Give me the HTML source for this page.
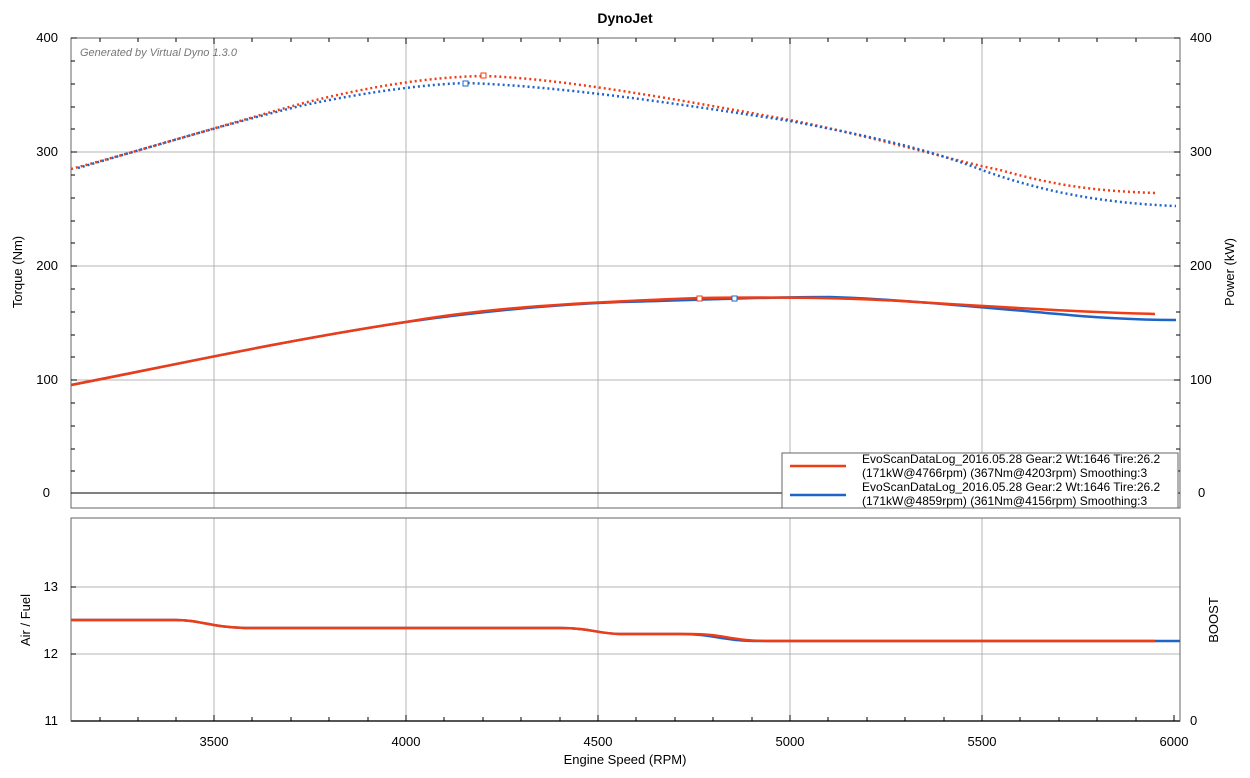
<!DOCTYPE html>
<html><head><style>body{margin:0;background:#fff}svg{display:block;font-family:"Liberation Sans",Arial,sans-serif}</style></head><body>
<svg width="1250" height="778" xmlns="http://www.w3.org/2000/svg">
<rect width="1250" height="778" fill="#fff"/>
<text x="625" y="23" text-anchor="middle" font-size="14" font-weight="bold">DynoJet</text>
<g stroke="#b4b4b4" stroke-width="1">
<line x1="214" y1="38" x2="214" y2="508"/><line x1="406" y1="38" x2="406" y2="508"/><line x1="598" y1="38" x2="598" y2="508"/><line x1="790" y1="38" x2="790" y2="508"/><line x1="982" y1="38" x2="982" y2="508"/>
<line x1="71" y1="152" x2="1180" y2="152"/><line x1="71" y1="266" x2="1180" y2="266"/><line x1="71" y1="380" x2="1180" y2="380"/>
<line x1="214" y1="518" x2="214" y2="721"/><line x1="406" y1="518" x2="406" y2="721"/><line x1="598" y1="518" x2="598" y2="721"/><line x1="790" y1="518" x2="790" y2="721"/><line x1="982" y1="518" x2="982" y2="721"/>
<line x1="71" y1="587" x2="1180" y2="587"/><line x1="71" y1="654" x2="1180" y2="654"/>
</g>
<line x1="71" y1="493" x2="1180" y2="493" stroke="#000"/>
<rect x="71" y="38" width="1109" height="470" fill="none" stroke="#666"/>
<rect x="71" y="518" width="1109" height="203" fill="none" stroke="#666"/>
<line x1="71" y1="721" x2="1180" y2="721" stroke="#555" stroke-width="2"/>
<g stroke="#000" stroke-width="1">
<path d="M71,38h6M71,61h4M71,84h4M71,107h4M71,129h4M71,152h6M71,175h4M71,198h4M71,221h4M71,243h4M71,266h6M71,289h4M71,312h4M71,335h4M71,357h4M71,380h6M71,403h4M71,426h4M71,449h4M71,471h4M71,493h6"/>
<path d="M1180,38h-6M1180,61h-4M1180,84h-4M1180,107h-4M1180,129h-4M1180,152h-6M1180,175h-4M1180,198h-4M1180,221h-4M1180,243h-4M1180,266h-6M1180,289h-4M1180,312h-4M1180,335h-4M1180,357h-4M1180,380h-6M1180,403h-4M1180,426h-4M1180,449h-4M1180,471h-4M1180,493h-6"/>
<path d="M71,587h5M71,654h5M100,721v-4M138,721v-4M176,721v-4M214,721v-6M252,721v-4M291,721v-4M329,721v-4M368,721v-4M406,721v-6M444,721v-4M483,721v-4M521,721v-4M560,721v-4M598,721v-6M636,721v-4M675,721v-4M713,721v-4M752,721v-4M790,721v-6M828,721v-4M867,721v-4M905,721v-4M944,721v-4M982,721v-6M1020,721v-4M1059,721v-4M1097,721v-4M1136,721v-4M1174,721v-6"/>
<path d="M100,38v4M138,38v4M176,38v4M214,38v6M252,38v4M291,38v4M329,38v4M368,38v4M406,38v6M444,38v4M483,38v4M521,38v4M560,38v4M598,38v6M636,38v4M675,38v4M713,38v4M752,38v4M790,38v6M828,38v4M867,38v4M905,38v4M944,38v4M982,38v6M1020,38v4M1059,38v4M1097,38v4M1136,38v4"/>
</g>
<text x="80" y="56" font-size="11" font-style="italic" fill="#777">Generated by Virtual Dyno 1.3.0</text>
<g font-size="13" text-anchor="end">
<text x="58" y="42">400</text><text x="58" y="156">300</text><text x="58" y="270">200</text><text x="58" y="384">100</text><text x="50" y="497">0</text>
<text x="58" y="591">13</text><text x="58" y="658">12</text><text x="58" y="725">11</text>
</g>
<g font-size="13"><text x="1190" y="42">400</text><text x="1190" y="156">300</text><text x="1190" y="270">200</text><text x="1190" y="384">100</text><text x="1198" y="497">0</text><text x="1190" y="725">0</text></g>
<g font-size="13" text-anchor="middle"><text x="214" y="746">3500</text><text x="406" y="746">4000</text><text x="598" y="746">4500</text><text x="790" y="746">5000</text><text x="982" y="746">5500</text><text x="1174" y="746">6000</text>
<text x="625" y="764">Engine Speed (RPM)</text></g>
<g font-size="13" text-anchor="middle"><text transform="translate(22,272) rotate(-90)">Torque (Nm)</text><text transform="translate(30,620) rotate(-90)">Air / Fuel</text>
<text transform="translate(1234,272) rotate(-90)">Power (kW)</text><text transform="translate(1218,620) rotate(-90)">BOOST</text></g>
<g fill="none" stroke-linejoin="round">
<path d="M71,169 C150,148 230,123 300,104 C370,86 430,77 483,76 C560,78 680,100 790,120 C880,138 950,160 1000,170 C1060,187 1100,191 1155,193" stroke="#f03c14" stroke-width="2.5" stroke-dasharray="2,3"/>
<path d="M78,168 C150,147 230,123 300,106 C370,91 430,84 466,83 C560,86 680,104 790,121 C880,138 930,150 982,170 C1040,191 1100,203 1176,206" stroke="#1e64c8" stroke-width="2.5" stroke-dasharray="2,3"/>
<path d="M71,385 C150,370 280,341 406,322 C470,313 540,305 620,302 C700,300 760,297 830,297 C900,299 1000,309 1080,316 C1120,319 1150,320 1176,320" stroke="#1e64c8" stroke-width="2.5"/>
<path d="M71,385 C150,370 280,341 406,322 C480,309 560,303 700,298 C760,297 830,297 900,301 C1000,307 1080,312 1155,314" stroke="#f03c14" stroke-width="2.5"/>
<path d="M71,620 L175,620 C200,620 210,627 245,628 L560,628 C590,628 600,634 620,634 L680,634 C715,634 720,641 760,641 L1180,641" stroke="#1e64c8" stroke-width="2.5"/>
<path d="M71,620 L175,620 C200,620 210,627 245,628 L560,628 C590,628 600,634 620,634 L690,634 C725,634 730,641 770,641 L1155,641" stroke="#f03c14" stroke-width="2.5"/>
</g>
<g fill="#fff" stroke-width="1"><rect x="481" y="73" width="5" height="5" stroke="#f03c14"/><rect x="463" y="81" width="5" height="5" stroke="#1e64c8"/><rect x="697" y="296" width="5" height="5" stroke="#f03c14"/><rect x="732" y="296" width="5" height="5" stroke="#1e64c8"/></g>
<rect x="782" y="453" width="396" height="55" fill="#fff" stroke="#666"/>
<line x1="790" y1="466" x2="846" y2="466" stroke="#f03c14" stroke-width="2.5"/>
<line x1="790" y1="495" x2="846" y2="495" stroke="#1e64c8" stroke-width="2.5"/>
<g font-size="12"><text x="862" y="463">EvoScanDataLog_2016.05.28 Gear:2 Wt:1646 Tire:26.2</text><text x="862" y="477">(171kW@4766rpm) (367Nm@4203rpm) Smoothing:3</text>
<text x="862" y="491">EvoScanDataLog_2016.05.28 Gear:2 Wt:1646 Tire:26.2</text><text x="862" y="505">(171kW@4859rpm) (361Nm@4156rpm) Smoothing:3</text></g>
</svg>
</body></html>
